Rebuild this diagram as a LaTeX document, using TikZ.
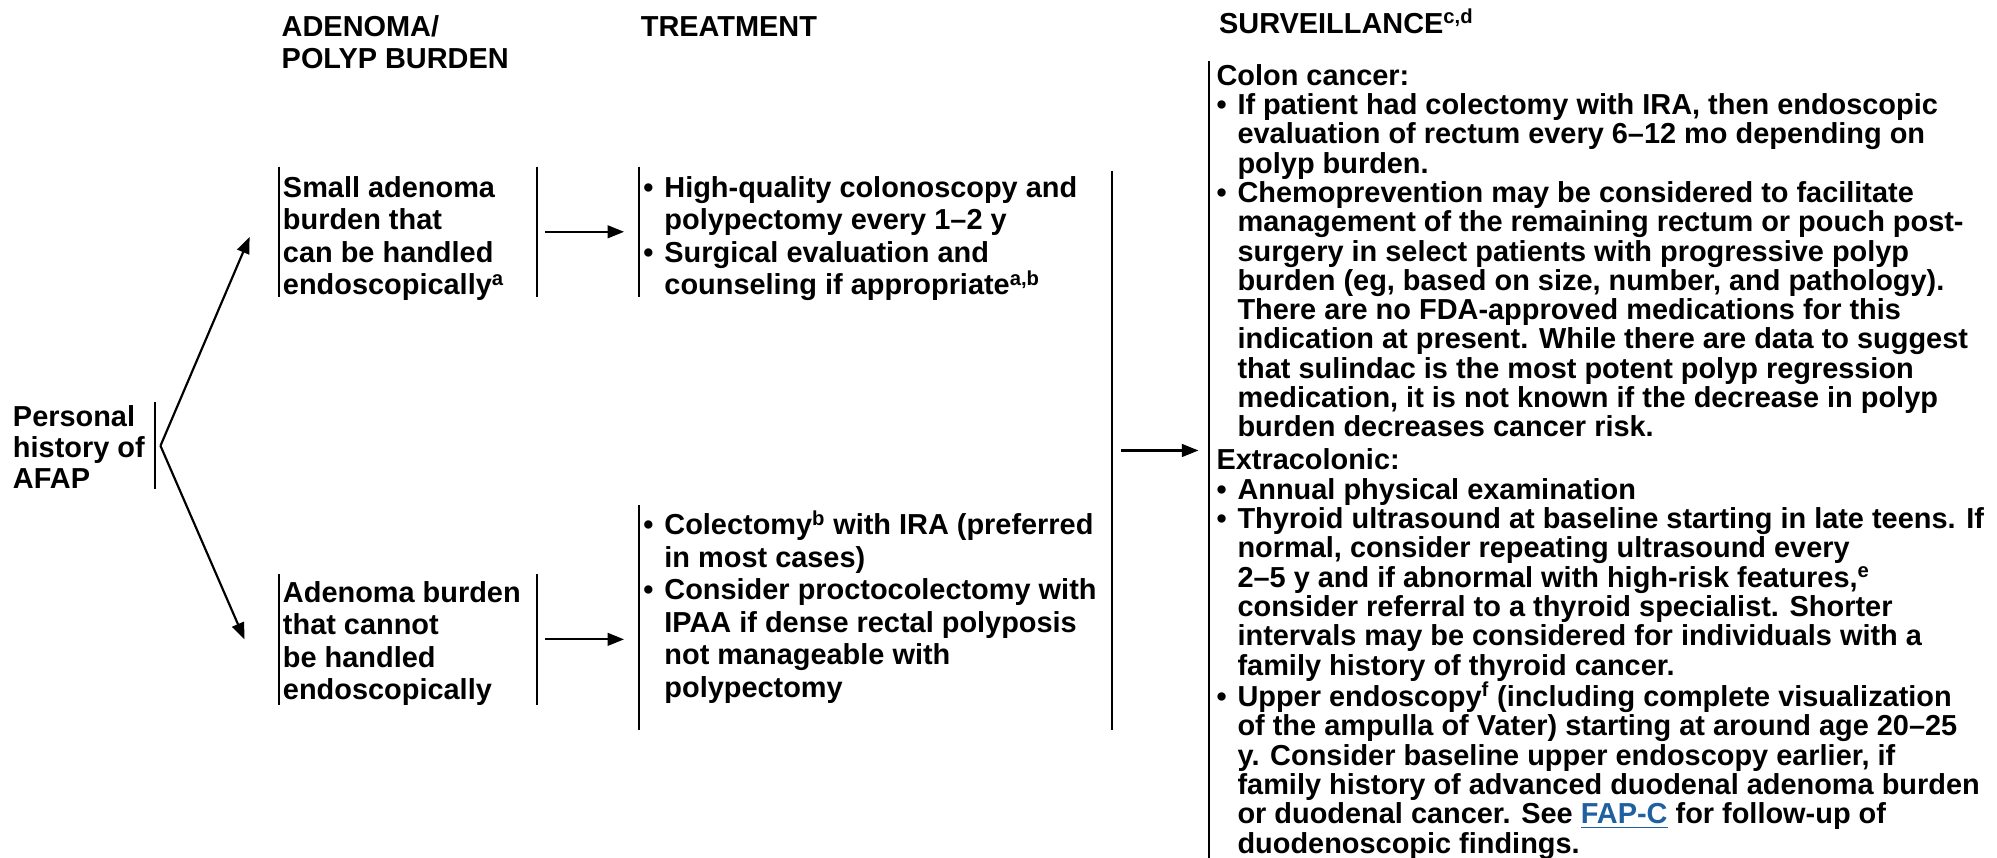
\documentclass[tikz,border=0pt]{standalone}
\usepackage{fontspec}
\setmainfont{Liberation Sans}
\usetikzlibrary{arrows.meta,calc}

\definecolor{linkblue}{RGB}{31,97,160}

% text blocks: bold sans, tight leading, explicit line breaks
\newlength\bulw
\setlength\bulw{16.5pt}
\newlength\linkw
\newcommand\bodyfont[1]{\fontsize{22.7}{#1}\selectfont\bfseries}
\newcommand\textblock[3]{%
  \parbox[t]{#1}{\bodyfont{#2}\raggedright\parskip=0pt\parindent=0pt #3}}
\newcommand\bitem{\par\noindent\hangindent=\bulw\hangafter=1\makebox[\bulw][l]{\textbullet}}
\newcommand\sups[1]{\textsuperscript{#1}}
\newcommand\linkref[1]{{\color{linkblue}\settowidth\linkw{#1}%
  \rlap{\rule[-3.6pt]{\linkw}{1.3pt}}#1}}

\begin{document}
\begin{tikzpicture}[x=1pt,y=-1pt,
  every node/.style={inner sep=0pt, anchor=base west},
  barline/.style={line width=1.6pt},
  arr/.style={line width=1.7pt, -{Triangle[length=13pt,width=10pt]}},
  leftbar/.style={append after command={(\tikzlastnode.north west) edge[barline] (\tikzlastnode.south west)}},
  rightbar/.style={append after command={(\tikzlastnode.north east) edge[barline] (\tikzlastnode.south east)}}
]
\useasboundingbox[fill=white] (0,0) rectangle (1568,673);

% column headings
\node (hburden) at (221,29) {\textblock{250pt}{24.8pt}{ADENOMA/\newline POLYP BURDEN}};
\node (htreat) at (503,29) {\textblock{250pt}{24.8pt}{TREATMENT}};
\node (hsurv) at (957,26) {\textblock{400pt}{24.8pt}{SURVEILLANCE\sups{c,d}}};

% starting point
\node[rightbar, text height=18.5pt, text depth=49.5pt] (pers) at (10,334.5)
  {\textblock{111pt}{24.5pt}{Personal\newline history of\newline AFAP}};
\coordinate (apex) at ([xshift=4.6pt]pers.east);
\coordinate (upTip) at (196,186);
\coordinate (loTip) at (192,502);

% adenoma / polyp burden
\node[leftbar, rightbar, inner xsep=3pt, text height=24pt, text depth=78pt] (small) at (219,155)
  {\textblock{196.5pt}{25.5pt}{Small adenoma\newline burden that\newline can be handled\newline endoscopically\sups{a}}};
\node[leftbar, rightbar, inner xsep=3pt, text height=22pt, text depth=80pt] (large) at (219,473)
  {\textblock{196.5pt}{25.5pt}{Adenoma burden\newline that cannot\newline be handled\newline endoscopically}};

% treatment
\node[leftbar, inner xsep=3pt, text height=24pt, text depth=78pt] (treatA) at (502,155)
  {\textblock{355pt}{25.5pt}{\bitem High-quality colonoscopy and\newline polypectomy every 1–2 y
   \bitem Surgical evaluation and\newline counseling if appropriate\sups{a,b}}};
\node[leftbar, inner xsep=3pt, text height=23pt, text depth=153pt] (treatB) at (502,420)
  {\textblock{360pt}{25.5pt}{\bitem Colectomy\sups{b} with IRA (preferred\newline in most cases)
   \bitem Consider proctocolectomy with\newline IPAA if dense rectal polyposis\newline not manageable with\newline polypectomy}};
\node[leftbar, anchor=north, minimum height=439pt, minimum width=0pt] (tright) at (873,134) {};

% surveillance
\node[leftbar, inner xsep=5.5pt, text height=19pt, text depth=612pt] (surv) at (949.5,67)
  {\textblock{612pt}{23pt}{Colon cancer:
   \bitem If patient had colectomy with IRA, then endoscopic\newline evaluation of rectum every 6–12 mo depending on\newline polyp burden.
   \bitem Chemoprevention may be considered to facilitate\newline management of the remaining rectum or pouch post-\newline surgery in select patients with progressive polyp\newline burden (eg, based on size, number, and pathology).\newline There are no FDA-approved medications for this\newline indication at present. While there are data to suggest\newline that sulindac is the most potent polyp regression\newline medication, it is not known if the decrease in polyp\newline burden decreases cancer risk.
   \par\vspace{3pt}\noindent Extracolonic:
   \bitem Annual physical examination
   \bitem Thyroid ultrasound at baseline starting in late teens. If\newline normal, consider repeating ultrasound every\newline 2–5 y and if abnormal with high-risk features,\sups{e}\newline consider referral to a thyroid specialist. Shorter\newline intervals may be considered for individuals with a\newline family history of thyroid cancer.
   \bitem Upper endoscopy\sups{f} (including complete visualization\newline of the ampulla of Vater) starting at around age 20–25\newline y. Consider baseline upper endoscopy earlier, if\newline family history of advanced duodenal adenoma burden\newline or duodenal cancer. See \linkref{FAP-C} for follow-up of\newline duodenoscopic findings.}};

% connectors
\draw[arr] (apex) -- (upTip);
\draw[arr] (apex) -- (loTip);
\draw[arr] ([xshift=6pt]small.east) -- ([xshift=-12pt]treatA.west |- small.east);
\draw[arr] ([xshift=6pt]large.east) -- ([xshift=-12pt]treatB.west |- large.east);
\draw[arr] ([xshift=7pt]tright.east) -- ([xshift=-8.5pt]surv.west |- tright.east);
\end{tikzpicture}
\end{document}
